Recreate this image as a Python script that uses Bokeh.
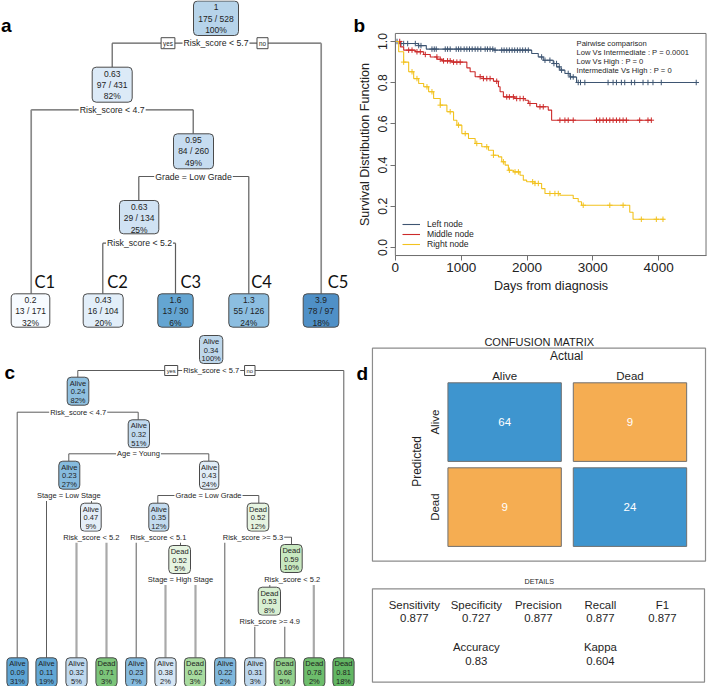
import numpy as np
from bokeh.plotting import figure
from bokeh.models import Range1d, FixedTicker, Legend, LegendItem, LinearAxis
from bokeh.layouts import row, column
from bokeh.embed import file_html
from bokeh.resources import INLINE
from bokeh.core.properties import value

S = 1.0
SANS = "Liberation Sans"
TXT = "#1e1e1e"
EDGE = "#4a4a4a"
LINE = "#5c5c5c"
LIGHT = "#a9a9a9"


def px(v):
    return f"{v * S:.2f}px"


# ================= DATA =================
# --- panel a: regression tree (event rate, events / n, share) ---
a_rate = ["1", "0.63", "0.95", "0.63", "0.2", "0.43", "1.6", "1.3", "3.9"]
a_count = ["175 / 528", "97 / 431", "84 / 260", "29 / 134", "13 / 171",
           "16 / 104", "13 / 30", "55 / 126", "78 / 97"]
a_pct = ["100%", "82%", "49%", "25%", "32%", "20%", "6%", "24%", "18%"]
a_split = ["Risk_score < 5.7", "Risk_score < 4.7", "Grade = Low Grade", "Risk_score < 5.2"]
a_cluster = ["C1", "C2", "C3", "C4", "C5"]

# --- panel b: Kaplan-Meier curves (days, survival) and censor times ---
km_labels = ["Left node", "Middle node", "Right node"]
blue_t = [0, 60, 350, 470, 1500, 2071, 2171, 2247, 2399, 2450, 2500, 2576, 2652, 2753, 4571]
blue_s = [1.0, 0.99, 0.98, 0.963, 0.958, 0.942, 0.925, 0.909, 0.893, 0.877, 0.861, 0.845, 0.828, 0.801, 0.801]
blue_cens = [25, 86, 126, 187, 303, 354, 389, 556, 591, 621, 758, 793, 833, 924, 960, 995, 1045,
             1086, 1126, 1167, 1212, 1253, 1298, 1364, 1399, 1439, 1480, 1515, 1616, 1652, 1692,
             1732, 1773, 1813, 1854, 1894, 1934, 1975, 2020, 2222, 2273, 2348, 2409, 2449, 2490,
             2525, 2626, 2662, 2702, 2778, 2813, 2879, 3232, 3308, 3359, 3434, 3485, 3586, 3636,
             3763, 3838, 3914, 4040, 4571]
red_t = [0, 76, 126, 303, 430, 530, 632, 707, 859, 1086, 1136, 1212, 1338, 1490, 1566, 1591,
         1641, 1818, 1970, 2020, 2146, 2323, 2374, 3889]
red_s = [1.0, 0.974, 0.958, 0.95, 0.937, 0.925, 0.914, 0.906, 0.90, 0.872, 0.853, 0.829, 0.82,
         0.807, 0.78, 0.756, 0.731, 0.723, 0.715, 0.699, 0.683, 0.667, 0.618, 0.618]
red_cens = [66, 202, 253, 328, 379, 455, 631, 682, 732, 793, 833, 884, 934, 985, 1288, 1338,
            1389, 1439, 1540, 1692, 1732, 1793, 1843, 1894, 1944, 2045, 2197, 2247, 2500, 2576,
            2626, 2702, 3056, 3106, 3157, 3207, 3258, 3308, 3359, 3409, 3460, 3510, 3712, 3838, 3889]
yel_t = [0, 50, 126, 202, 278, 354, 430, 505, 581, 682, 783, 884, 934, 1010, 1111, 1212, 1313,
         1414, 1490, 1566, 1616, 1667, 1717, 1793, 1894, 1944, 1995, 2121, 2222, 2273, 2500,
         2702, 2778, 2828, 3561, 3611, 4091]
yel_s = [1.0, 0.95, 0.90, 0.853, 0.82, 0.796, 0.78, 0.756, 0.723, 0.691, 0.659, 0.618, 0.594,
         0.553, 0.529, 0.505, 0.489, 0.472, 0.448, 0.44, 0.416, 0.40, 0.375, 0.367, 0.351, 0.327,
         0.319, 0.311, 0.286, 0.262, 0.254, 0.238, 0.222, 0.205, 0.171, 0.137, 0.137]
yel_cens = [126, 253, 328, 480, 556, 682, 833, 960, 1061, 1237, 1389, 1490, 1641, 1732, 1818,
            1869, 2086, 2121, 2172, 2348, 2424, 2475, 2854, 3258, 3460, 3737, 3965, 4066]
km_notes = ["Pairwise comparison", "Low Vs Intermediate : P = 0.0001",
            "Low Vs High : P = 0", "Intermediate Vs High : P = 0"]
b_xticks = [0, 1000, 2000, 3000, 4000]
b_yticks = [0.0, 0.2, 0.4, 0.6, 0.8, 1.0]

# --- panel c: classification tree (class, P(dead), share) ---
c_cls = ["Alive", "Alive", "Alive", "Alive", "Alive", "Alive", "Alive", "Dead", "Dead", "Dead", "Dead"]
c_prob = ["0.34", "0.24", "0.32", "0.23", "0.43", "0.47", "0.35", "0.52", "0.52", "0.59", "0.53"]
c_pct = ["100%", "82%", "51%", "27%", "24%", "9%", "12%", "12%", "5%", "10%", "8%"]
c_leaf_cls = ["Alive", "Alive", "Alive", "Dead", "Alive", "Alive", "Dead", "Alive", "Alive", "Dead", "Dead", "Dead"]
c_leaf_prob = ["0.09", "0.11", "0.32", "0.71", "0.23", "0.38", "0.62", "0.22", "0.31", "0.68", "0.78", "0.81"]
c_leaf_pct = ["31%", "19%", "5%", "3%", "7%", "2%", "3%", "2%", "3%", "5%", "2%", "18%"]
c_split = ["Risk_score < 5.7", "Risk_score < 4.7", "Age = Young", "Stage = Low Stage",
           "Grade = Low Grade", "Risk_score < 5.2", "Risk_score < 5.1", "Risk_score >= 5.3",
           "Stage = High Stage", "Risk_score < 5.2", "Risk_score >= 4.9"]

# --- panel d: confusion matrix and details ---
cm_classes = ["Alive", "Dead"]
cm_counts = [[64, 9], [9, 24]]   # rows: predicted, cols: actual
det_names = ["Sensitivity", "Specificity", "Precision", "Recall", "F1"]
det_values = ["0.877", "0.727", "0.877", "0.877", "0.877"]
det2_names = ["Accuracy", "Kappa"]
det2_values = ["0.83", "0.604"]


# ================= LAYOUT / STYLE =================
def canvas(w, h, xr, yr):
    p = figure(width=w, height=h, x_range=Range1d(*xr), y_range=Range1d(*yr),
               output_backend="svg", toolbar_location=None, min_border=0,
               x_axis_location=None, y_axis_location=None)
    p.grid.visible = False
    p.outline_line_color = None
    p.background_fill_color = "white"
    p.border_fill_color = "white"
    return p


def txt(p, x, y, t, size, align="center", baseline="middle", color=TXT, style="normal",
        font=SANS, angle=0.0, **kw):
    p.text(x=x, y=y, text=t, text_font=value(font), text_font_size=px(size),
           text_align=align, text_baseline=baseline, text_color=color,
           text_font_style=style, angle=angle, **kw)


def draw_nodes(p, boxes, fills, rows, offs, size, radius):
    x0 = [b[0] for b in boxes]
    x1 = [b[1] for b in boxes]
    y0 = [b[2] for b in boxes]
    y1 = [b[3] for b in boxes]
    p.quad(left=x0, right=x1, top=y0, bottom=y1, fill_color=fills, line_color=EDGE,
           line_width=1, border_radius=radius)
    cx = [(a + b) / 2 for a, b in zip(x0, x1)]
    for r, o in zip(rows, offs):
        txt(p, cx, [y + o for y in y0], r, size)


def draw_segments(p, segs, color=LINE, width=1.0):
    p.segment(x0=[s[0] for s in segs], y0=[s[1] for s in segs],
              x1=[s[2] for s in segs], y1=[s[3] for s in segs],
              line_color=color, line_width=width)


# ---------------- panel a ----------------
fa = canvas(350, 330, (0, 350), (330, 0))
a_box = [(193, 238, 0.5, 35), (91.7, 131.7, 66.7, 101.7), (173, 213, 133.3, 168.3),
         (119, 158.3, 200, 233.3), (10.7, 49.3, 293.3, 326.7), (82.7, 122.7, 293.3, 326.7),
         (157.3, 192.7, 293.3, 326.7), (228.3, 268.3, 293.3, 326.7), (302.7, 338.3, 293.3, 326.7)]
a_fill = ["#b7d4ea", "#dceaf7", "#c6dcf0", "#d0e2f3", "#f7fbff", "#e2eef9", "#64a5d2",
          "#8cbee1", "#4f90c7"]
a_seg = [(111.7, 42.7, 320.7, 42.7), (111.7, 42.7, 111.7, 66.7),
         (30.7, 109.3, 192.7, 109.3), (192.7, 109.3, 192.7, 133.3),
         (138.3, 176, 248.3, 176), (138.3, 176, 138.3, 200), (248.3, 176, 248.3, 293.3),
         (102.3, 242.7, 175, 242.7), (102.3, 242.7, 102.3, 293.3), (175, 242.7, 175, 293.3)]
a_seg_light = [(320.7, 42.7, 320.7, 293.3), (30.7, 109.3, 30.7, 293.3)]
draw_segments(fa, a_seg, width=1.2)
draw_segments(fa, a_seg_light, color="#8a8a8a", width=1.7)
draw_nodes(fa, a_box, a_fill, [a_rate, a_count, a_pct], [6.3, 17.5, 29.0], 8.5, 4)
a_split_x = [215.5, 111.7, 193, 139]
a_split_y = [42.7, 109.3, 176, 242.7]
txt(fa, a_split_x, a_split_y, a_split, 8.7, background_fill_color="white", padding=1)
txt(fa, [167.5, 262], [42.7, 42.7], ["yes", "no"], 6.3,
    background_fill_color="white", border_line_color=EDGE, padding=2)
txt(fa, [34, 106.7, 180, 250.7, 327.3], [281.5] * 5, a_cluster, 16.5, align="left",
    font="Lato", color="#111111")
txt(fa, [0.5], [25], ["a"], 19, align="left", baseline="alphabetic", style="bold", color="black")

# ---------------- panel c ----------------
fc = canvas(355, 356, (0, 355), (686, 330))
c_x = [(199, 222.3), (66.7, 88.3), (127.7, 149), (58.3, 79.3), (199, 218.3), (80, 100.7),
       (148.3, 168.3), (246.7, 268.3), (168.3, 190), (280, 301.7), (257.7, 280)]
c_y0 = [335, 376.7, 419.3, 460.7, 460.7, 502.7, 502.7, 502.7, 545, 544, 586.7]
c_box = [(a, b, y, y + 28) for (a, b), y in zip(c_x, c_y0)]
c_fill = ["#bed7eb", "#8fc0e0", "#c0d9ee", "#86bbde", "#e0ecf7", "#e4eef8", "#c3dbef",
          "#e6f4e1", "#e6f4e1", "#c8e8c0", "#d8efd2"]
c_leaf_cx = [17, 46, 76, 106, 135.7, 165, 194.5, 224.7, 254.7, 284.2, 313.8, 343]
c_leaf_box = [(c - 10.6, c + 10.6, 657.3, 686.2) for c in c_leaf_cx]
c_leaf_fill = ["#5da4d4", "#62a7d5", "#c0d9ee", "#7cc57a", "#86bbde", "#d5e5f3", "#a8db9f",
               "#80b8dc", "#bdd7ed", "#93d08c", "#6dbd6c", "#62b663"]
c_seg = [(77.3, 370, 343.3, 370), (77.3, 370, 77.3, 376.7), (343.3, 370, 343.3, 657.3),
         (16.7, 411.7, 137.7, 411.7), (16.7, 411.7, 16.7, 657.3), (137.7, 411.7, 137.7, 419.3),
         (68.3, 453.3, 208.3, 453.3), (68.3, 453.3, 68.3, 460.7), (208.3, 453.3, 208.3, 460.7),
         (46, 495, 91, 495), (46, 495, 46, 657.3), (91, 495, 91, 502.7),
         (76, 536.7, 106, 536.7),
         (157.3, 495, 258.3, 495), (157.3, 495, 157.3, 502.7), (258.3, 495, 258.3, 502.7),
         (135.7, 536.7, 180, 536.7), (135.7, 536.7, 135.7, 657.3), (180, 536.7, 180, 545),
         (165, 579, 195, 579),
         (224.3, 536.7, 291, 536.7), (224.3, 536.7, 224.3, 657.3), (291, 536.7, 291, 544),
         (269.3, 579, 313.3, 579), (269.3, 579, 269.3, 586.7),
         (254.3, 620.7, 284.3, 620.7), (254.3, 620.7, 254.3, 657.3), (284.3, 620.7, 284.3, 657.3)]
c_seg_light = [(76, 540, 76, 657.3), (106, 540, 106, 657.3), (165, 582, 165, 657.3),
               (195, 582, 195, 657.3), (313.3, 582, 313.3, 657.3)]
draw_segments(fc, c_seg)
draw_segments(fc, c_seg_light, color=LIGHT, width=2.2)
draw_nodes(fc, c_box, c_fill, [c_cls, c_prob, c_pct], [6.0, 14.5, 23.3], 7.5, 4)
draw_nodes(fc, c_leaf_box, c_leaf_fill, [c_leaf_cls, c_leaf_prob, c_leaf_pct],
           [5.4, 14.4, 23.7], 7.5, 4)
c_split_x = [210.7, 77.7, 138, 68.3, 208, 90.8, 157.8, 252.5, 180, 291.7, 269.3]
c_split_y = [370, 411.7, 453.3, 495, 495, 536.7, 536.7, 536.7, 579, 579, 620.7]
txt(fc, c_split_x, c_split_y, c_split, 7.5, background_fill_color="white", padding=1)
txt(fc, [170.7, 249.3], [370, 370], ["yes", "no"], 5.8,
    background_fill_color="white", border_line_color=EDGE, padding=2)
txt(fc, [4], [371.7], ["c"], 19, align="left", baseline="alphabetic", style="bold", color="black")

# ---------------- panel b ----------------
# frame spans the whole panel; axes are pinned to the plot box with fixed_location
X_LO, X_HI = -681.8, 4742.4     # days at the panel's left / right edge
Y_LO, Y_HI = -0.4029, 1.199     # survival at the panel's bottom / top edge
BOX_X = (0, 4720)
BOX_Y = (-0.039, 1.039)
fb = figure(width=357, height=330, x_range=Range1d(X_LO, X_HI), y_range=Range1d(Y_LO, Y_HI),
            output_backend="svg", toolbar_location=None, min_border=0,
            x_axis_location=None, y_axis_location=None)
fb.grid.visible = False
fb.outline_line_color = None
fb.quad(left=[BOX_X[0]], right=[BOX_X[1]], bottom=[BOX_Y[0]], top=[BOX_Y[1]],
        fill_color=None, line_color="#707070", line_width=1)
km_colors = ["#3e5572", "#cc2a2a", "#f2c21f"]
renderers = []
for t, s, cens, col in [(blue_t, blue_s, blue_cens, km_colors[0]),
                        (red_t, red_s, red_cens, km_colors[1]),
                        (yel_t, yel_s, yel_cens, km_colors[2])]:
    r = fb.step(t, s, mode="after", line_color=col, line_width=1.1)
    renderers.append(r)
    idx = np.searchsorted(np.array(t), np.array(cens), side="right") - 1
    fb.scatter(cens, np.array(s)[idx], marker="cross", size=5.5, line_color=col, line_width=1)
legend = Legend(items=[LegendItem(label=l, renderers=[r]) for l, r in zip(km_labels, renderers)],
                location=(52, 81), border_line_color=None, background_fill_alpha=0,
                label_text_font=SANS, label_text_font_size=px(8.6), label_text_color=TXT,
                glyph_width=18, glyph_height=10, label_height=10, spacing=0, padding=0,
                margin=0, label_standoff=7)
fb.add_layout(legend)
txt(fb, [2753] * 4, [0.9917, 0.948, 0.903, 0.859], km_notes, 7.6, align="left")
txt(fb, [-636], [1.078], ["b"], 19, align="left", baseline="alphabetic", style="bold",
    color="black")

xax = LinearAxis(fixed_location=BOX_Y[0], bounds=BOX_X,
                 ticker=FixedTicker(ticks=b_xticks), axis_label="Days from diagnosis")
yax = LinearAxis(fixed_location=BOX_X[0], bounds=(0, 1),
                 ticker=FixedTicker(ticks=b_yticks), axis_label="Survival Distribution Function")
yax.major_label_overrides = {v: f"{v:.1f}" for v in b_yticks}
yax.major_label_orientation = "vertical"
for ax, lsize in [(xax, 13.5), (yax, 12.2)]:
    ax.axis_label_text_font = SANS
    ax.axis_label_text_font_size = px(12.6)
    ax.axis_label_text_font_style = "normal"
    ax.axis_label_text_color = "#222222"
    ax.major_label_text_font = SANS
    ax.major_label_text_font_size = px(lsize)
    ax.major_label_text_color = "#222222"
    ax.axis_line_color = "#707070"
    ax.major_tick_line_color = "#707070"
    ax.major_tick_out = 5
    ax.major_tick_in = 0
    ax.minor_tick_line_color = None
xax.major_label_standoff = 2
xax.axis_label_standoff = 4
yax.major_label_standoff = 3
yax.axis_label_standoff = 4
fb.add_layout(xax, "below")
fb.add_layout(yax, "left")

# ---------------- panel d ----------------
fd = canvas(352, 356, (355, 708), (686, 330))
fd.quad(left=[372], right=[706], top=[347.7], bottom=[560.7], fill_color=None,
        line_color="#8c8c8c", line_width=1.2)
fd.quad(left=[372], right=[705], top=[588.3], bottom=[681.7], fill_color=None,
        line_color="#8c8c8c", line_width=1.2)
txt(fd, [539.3], [341], ["CONFUSION MATRIX"], 11)
txt(fd, [566.7], [355.7], ["Actual"], 12)
cell_x0, cell_dx, cell_w = 447.7, 125.7, 113.7
cell_y0, cell_dy, cell_h = 382.3, 85.0, 78.6
cl, cr, ct, cb, cc, cv, cxs, cys = [], [], [], [], [], [], [], []
for i in range(2):          # predicted row
    for j in range(2):      # actual column
        l = cell_x0 + j * cell_dx
        t = cell_y0 + i * cell_dy
        cl.append(l); cr.append(l + cell_w); ct.append(t); cb.append(t + cell_h)
        cc.append("#3e95cf" if i == j else "#f5ad52")
        cv.append(str(cm_counts[i][j]))
        cxs.append(l + cell_w / 2); cys.append(t + cell_h / 2)
fd.quad(left=cl, right=cr, top=ct, bottom=cb, fill_color=cc, line_color="#6f6f6f", line_width=1)
txt(fd, cxs, cys, cv, 11.5, color="white")
txt(fd, [cell_x0 + j * cell_dx + cell_w / 2 for j in range(2)], [375.7] * 2, cm_classes, 11.5)
txt(fd, [435] * 2, [cell_y0 + i * cell_dy + cell_h / 2 for i in range(2)], cm_classes, 11.5,
    angle=np.pi / 2)
txt(fd, [416.7], [461], ["Predicted"], 12, angle=np.pi / 2)
txt(fd, [539.3], [581], ["DETAILS"], 7.2)
det_x0, det_dx = 414, 62.2
txt(fd, [det_x0 + k * det_dx for k in range(5)], [604] * 5, det_names, 11.4)
txt(fd, [det_x0 + k * det_dx for k in range(5)], [617.3] * 5, det_values, 11.4)
txt(fd, [det_x0 + k * det_dx for k in (1, 3)], [646.7] * 2, det2_names, 11.4)
txt(fd, [det_x0 + k * det_dx for k in (1, 3)], [660] * 2, det2_values, 11.4)
txt(fd, [356], [373.3], ["d"], 19, align="left", baseline="alphabetic", style="bold", color="black")

layout = column(row(fa, fb), row(fc, fd))
open("out.html", "w").write(file_html(layout, INLINE))
